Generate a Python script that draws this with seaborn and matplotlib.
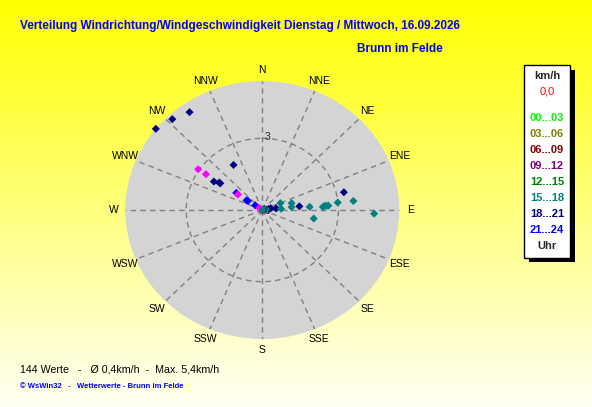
import numpy as np
import pandas as pd
import matplotlib
matplotlib.use("Agg")
import matplotlib.pyplot as plt
from matplotlib.patches import Rectangle
import seaborn as sns

# ---------------------------
# DATA
# ---------------------------
richtungen = ['N', 'NNE', 'NE', 'ENE', 'E', 'ESE', 'SE', 'SSE',
              'S', 'SSW', 'SW', 'WSW', 'W', 'WNW', 'NW', 'NNW']

# wind direction (deg, clockwise from N) and speed (km/h) per colour group
navy_dir = [309, 317, 325, 329, 302, 304, 304, 77, 84, 70, 80, 78, 83]
navy_kmh = [5.4, 5.2, 5.0, 2.2, 2.25, 2.05, 2.0, 3.3, 1.47, 0.1, 0.25, 0.34, 0.55]

blau_dir = [305, 303, 304, 305]
blau_kmh = [1.25, 0.74, 0.68, 0.34]

magenta_dir = [304, 304, 304, 306]
magenta_kmh = [3.05, 2.68, 1.16, 0.15]

teal_dir = [68, 76, 84, 86, 86, 100, 87, 86, 86, 86, 84, 84, 92, 80, 60]
teal_kmh = [0.77, 1.19, 1.16, 0.74, 1.87, 2.06, 2.39, 2.46, 2.54, 2.61, 2.99, 3.61, 4.41, 0.15, 0.05]

legend_labels = ['00...03', '03...06', '06...09', '09...12',
                 '12...15', '15...18', '18...21', '21...24']
legend_colors = ['#00FF00', '#808000', '#800000', '#800080',
                 '#008000', '#008080', '#000080', '#0000FF']

r_max = 5.4
ring = 3

titel = "Verteilung Windrichtung/Windgeschwindigkeit Dienstag / Mittwoch, 16.09.2026"
ort = "Brunn im Felde"
info = "144 Werte   -   Ø 0,4km/h  -  Max. 5,4km/h"
copyright_txt = "© WsWin32   -   Wetterwerte - Brunn im Felde"

# ---------------------------
# BUILD TABLE
# ---------------------------
parts = []
for name, d, v in [('18...21', navy_dir, navy_kmh), ('21...24', blau_dir, blau_kmh),
                   ('magenta', magenta_dir, magenta_kmh), ('15...18', teal_dir, teal_kmh)]:
    parts.append(pd.DataFrame({'dir': d, 'kmh': v, 'gruppe': name}))
df = pd.concat(parts, ignore_index=True)
df['theta'] = np.deg2rad(df['dir'])
palette = {'18...21': '#000080', '21...24': '#0000FF', 'magenta': '#FF00FF', '15...18': '#008080'}

# ---------------------------
# FIGURE
# ---------------------------
sns.set_style("white")
plt.rcParams['font.family'] = ['Liberation Sans', 'DejaVu Sans']

W, H = 592, 407
fig = plt.figure(figsize=(W / 100, H / 100), dpi=100)

# background with gradient, pixel coordinates
bg = fig.add_axes([0, 0, 1, 1])
grad = np.linspace(0, 1, 256)[:, None]
img = np.zeros((256, 1, 3))
img[..., 0] = 1.0
img[..., 1] = 1.0
img[..., 2] = grad * 0.96
bg.imshow(img, extent=[0, W, H, 0], aspect='auto')
bg.set_xlim(0, W)
bg.set_ylim(H, 0)
bg.axis('off')

# polar plot
ax = fig.add_axes([125.3 / W, 68 / H, 274 / W, 258 / H], projection='polar')
ax.set_aspect('auto')
ax.set_facecolor('#D4D4D4')

sns.scatterplot(data=df, x='theta', y='kmh', hue='gruppe', palette=palette,
                marker='D', s=17, linewidth=0, legend=False, ax=ax, zorder=3,
                clip_on=False)
ax.plot(0, 0, 's', color='#555555', ms=3, zorder=2)

ax.set_theta_zero_location('N')
ax.set_theta_direction(-1)
ax.set_ylim(0, r_max)
ax.set_xticks(np.deg2rad(np.arange(0, 360, 22.5)))
ax.set_xticklabels([])
ax.set_yticks([ring])
ax.set_yticklabels([])
ax.grid(True, color='#808080', linestyle=(0, (4, 3)), linewidth=1)
ax.spines['polar'].set_visible(False)
ax.set_xlabel('')
ax.set_ylabel('')

for i, lab in enumerate(richtungen):
    ax.text(np.deg2rad(i * 22.5), r_max * 1.085, lab, ha='center', va='center',
            fontsize=7.5, color='black')
ax.annotate('3', xy=(0, ring), xytext=(4, 1), textcoords='offset points',
            ha='center', va='center', fontsize=7.5)
ax.annotate('0', xy=(0, 0), xytext=(4, -1), textcoords='offset points',
            ha='center', va='center', fontsize=7.5, zorder=4)

# ---------------------------
# TEXTS
# ---------------------------
bg.text(20, 25.7, titel, ha='left', va='center', fontsize=8.5,
        fontweight='bold', color='#0000FF')
bg.text(443, 49, ort, ha='right', va='center', fontsize=8.5,
        fontweight='bold', color='#0000FF')
bg.text(20, 370, info, ha='left', va='center', fontsize=7.7, color='black')
bg.text(20, 386, copyright_txt, ha='left', va='center', fontsize=5.5,
        fontweight='bold', color='#0000FF')

# legend box with shadow
bg.add_patch(Rectangle((529, 70), 46, 192, facecolor='black', edgecolor='none'))
bg.add_patch(Rectangle((524.3, 65), 45.7, 192.7, facecolor='white', edgecolor='black', lw=1))
bg.text(547, 75.7, 'km/h', ha='center', va='center', fontsize=8, fontweight='bold')
bg.text(547, 91, '0,0', ha='center', va='center', fontsize=8, color='red')
for i, (lab, col) in enumerate(zip(legend_labels, legend_colors)):
    bg.text(547, 117.7 + i * 16.05, lab, ha='center', va='center', fontsize=8,
            fontweight='bold', color=col)
bg.text(547, 246, 'Uhr', ha='center', va='center', fontsize=8, fontweight='bold')

fig.savefig('out.png', dpi=100)
